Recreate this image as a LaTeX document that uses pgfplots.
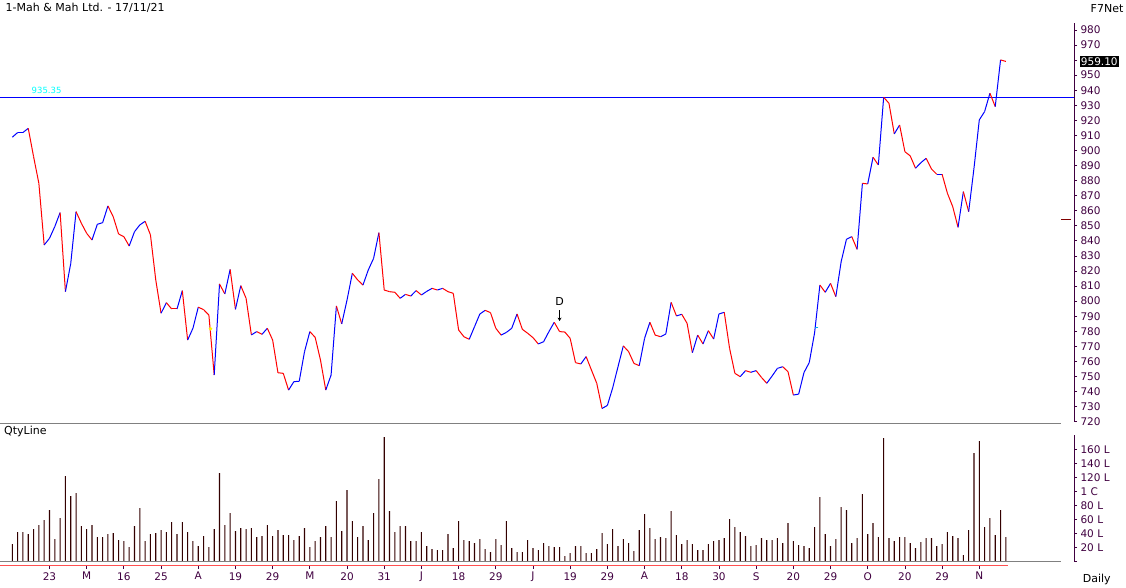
\documentclass[border=0pt]{standalone}
\usepackage{fontspec}
\setmainfont{DejaVu Sans}
\usepackage{pgfplots}
\pgfplotsset{compat=1.18}
\usetikzlibrary{arrows.meta}
\definecolor{axiscol}{RGB}{64,0,64}
\definecolor{barcol}{RGB}{51,0,0}
\definecolor{redline}{RGB}{255,80,80}
\definecolor{grayline}{RGB}{128,128,128}
\definecolor{dashred}{RGB}{128,0,0}
\definecolor{lvl}{RGB}{0,255,255}

\pgfplotstableread{
x y c
0 908.8 1
1 911.9 1
2 911.9 1
3 914.7 0
4 896.0 0
5 878.2 0
6 837.3 1
7 841.7 1
8 849.5 1
9 858.8 0
10 806.3 1
11 825.0 1
12 859.4 0
13 851.7 0
14 845.0 0
15 840.6 1
16 851.0 1
17 852.1 1
18 863.2 0
19 856.0 0
20 844.6 0
21 842.8 0
22 836.6 1
23 846.1 1
24 850.6 1
25 853.0 0
26 844.0 0
27 814.1 0
28 792.0 1
29 799.0 0
30 794.8 0
31 794.8 1
32 807.0 0
33 774.2 1
34 782.0 1
35 796.0 0
36 794.4 0
37 790.8 0
38 751.0 1
39 811.4 0
40 804.8 1
41 821.1 0
42 794.6 1
43 810.3 0
44 801.9 0
45 777.6 1
46 779.8 0
47 778.0 1
48 782.0 0
49 774.2 0
50 752.5 0
51 752.1 0
52 741.0 1
53 746.6 1
54 746.8 1
55 766.5 1
56 779.8 0
57 776.0 0
58 761.0 0
59 741.0 1
60 751.0 1
61 796.8 0
62 784.9 1
63 800.8 1
64 818.5 0
65 814.1 0
66 810.7 1
67 820.7 1
68 828.4 1
69 845.5 0
70 807.4 0
71 806.3 0
72 805.9 0
73 801.9 1
74 804.5 0
75 803.4 1
76 807.0 0
77 804.1 1
78 806.5 1
79 808.5 0
80 807.4 1
81 808.5 0
82 806.3 0
83 805.2 0
84 780.9 0
85 776.4 0
86 774.7 1
87 783.1 1
88 791.5 1
89 793.9 0
90 792.4 0
91 782.0 0
92 777.5 1
93 779.3 1
94 782.0 1
95 791.5 0
96 781.3 0
97 778.7 0
98 775.8 0
99 771.6 1
100 773.1 1
101 779.8 1
102 786.0 0
103 779.8 0
104 779.5 0
105 775.3 0
106 759.2 0
107 758.3 1
108 763.2 0
109 754.3 0
110 745.5 0
111 728.8 1
112 730.8 1
113 742.5 1
114 756.5 1
115 770.3 0
116 766.5 0
117 758.7 0
118 757.2 1
119 775.3 1
120 786.0 0
121 777.5 0
122 776.4 1
123 778.2 1
124 799.2 0
125 790.2 1
126 791.3 0
127 785.3 0
128 765.8 1
129 777.5 0
130 771.6 1
131 780.4 0
132 774.9 1
133 791.5 1
134 792.6 0
135 768.7 0
136 752.1 0
137 749.9 1
138 753.9 0
139 752.8 1
140 753.9 0
141 749.4 0
142 745.5 1
143 750.3 1
144 755.4 1
145 756.5 0
146 753.2 0
147 737.7 1
148 738.3 1
149 752.6 1
150 759.3 1
151 779.0 1
152 810.7 0
153 805.9 1
154 811.8 0
155 803.0 1
156 826.2 1
157 841.1 1
158 842.8 0
159 834.4 1
160 878.2 0
161 877.8 1
162 895.5 0
163 890.4 1
164 935.35 0
165 931.3 0
166 911.0 1
167 916.9 0
168 899.2 0
169 896.4 0
170 888.2 1
171 891.9 1
172 894.8 0
173 887.7 0
174 884.2 1
175 884.2 0
176 871.6 0
177 862.7 0
178 849.0 1
179 872.7 0
180 859.4 1
181 888.2 1
182 920.3 1
183 925.8 1
184 938.0 0
185 929.1 1
186 960.1 0
187 959.1 0
}\pricetable

\pgfplotstableread{
x v
0 25.3
1 42.4
2 42.4
3 39.5
4 46.7
5 52.4
6 59.5
7 73.8
8 32.4
9 62.4
10 122.4
11 93.8
12 98.1
13 51.0
14 46.7
15 52.4
16 35.3
17 35.3
18 39.5
19 41.0
20 31.0
21 29.5
22 21.0
23 51.0
24 76.7
25 29.5
26 39.5
27 41.0
28 45.3
29 42.4
30 56.7
31 39.5
32 56.7
33 42.4
34 29.5
35 22.4
36 36.7
37 21.0
38 46.7
39 126.7
40 52.4
41 69.5
42 43.8
43 48.1
44 46.7
45 48.1
46 35.3
47 36.7
48 52.4
49 36.7
50 45.3
51 38.1
52 38.1
53 31.0
54 36.7
55 48.1
56 21.0
57 29.5
58 35.3
59 51.0
60 35.3
61 86.7
62 43.8
63 102.4
64 58.1
65 35.3
66 51.0
67 31.0
68 69.5
69 118.1
70 178.1
71 72.4
72 42.4
73 51.0
74 51.0
75 29.5
76 29.5
77 42.4
78 22.4
79 18.1
80 16.7
81 16.7
82 39.5
83 19.5
84 58.1
85 31.0
86 29.5
87 26.7
88 32.4
89 18.1
90 13.8
91 32.4
92 23.8
93 58.1
94 19.5
95 13.8
96 13.8
97 31.0
98 19.5
99 16.7
100 26.7
101 22.4
102 21.0
103 21.0
104 8.1
105 12.4
106 22.4
107 22.4
108 12.4
109 12.4
110 18.1
111 41.0
112 25.3
113 46.7
114 22.4
115 32.4
116 26.7
117 15.3
118 45.3
119 68.1
120 48.1
121 32.4
122 35.3
123 33.8
124 72.4
125 38.1
126 25.3
127 31.0
128 25.3
129 16.7
130 16.7
131 25.3
132 29.5
133 31.0
134 33.8
135 61.0
136 49.5
137 42.4
138 36.7
139 22.4
140 23.8
141 33.8
142 31.0
143 31.0
144 33.8
145 26.7
146 55.3
147 29.5
148 23.8
149 22.4
150 19.5
151 49.5
152 92.4
153 39.5
154 22.4
155 32.4
156 78.1
157 73.8
158 26.7
159 33.8
160 96.7
161 39.5
162 55.3
163 35.3
164 176.7
165 33.8
166 29.5
167 35.3
168 35.3
169 26.7
170 19.5
171 28.1
172 33.8
173 33.8
174 22.4
175 25.3
176 42.4
177 36.7
178 33.8
179 9.5
180 45.3
181 155.3
182 172.4
183 49.5
184 62.4
185 38.1
186 73.8
187 35.3
}\voltable

\begin{document}
\begin{tikzpicture}
\path[use as bounding box] (0pt,0pt) rectangle (1126pt,-587pt);

% ---------- price panel ----------
\begin{axis}[
  at={(0pt,-23.3pt)}, anchor=north west,
  scale only axis, width=1074pt, height=398.4pt,
  xmin=-2.315, xmax=199.83, ymin=720, ymax=984.4,
  axis x line=none, axis y line=right,
  y axis line style={-, draw=axiscol, line width=0.8pt},
  ytick={720,730,...,980},
  yticklabels={720,730,740,750,760,770,780,790,800,810,820,830,840,850,860,870,880,890,900,910,920,930,940,950,,970,980},
  tick align=outside, major tick length=3pt,
  ytick style={draw=axiscol, line width=0.8pt},
  yticklabel style={font=\fontsize{10.5}{12}\selectfont, text=axiscol},
  clip=false,
  colormap={rb}{color(0)=(red) color(1)=(blue)},
  point meta min=0, point meta max=1,
]
\draw[blue, line width=0.9pt] (axis cs:-2.315,935.35) -- (axis cs:199.83,935.35);
\addplot[mesh, shader=flat corner, point meta=explicit, line width=1pt]
  table[x=x, y=y, meta=c] {\pricetable};
\addplot[only marks, mark=*, mark size=1.6pt, color=yellow] coordinates {(37.3,781.7)};
\addplot[only marks, mark=-, mark size=1.6pt, color=cyan, line width=1pt] coordinates {(151.4,782.7)};
\node[font=\fontsize{11}{13}\selectfont] at (axis cs:103,799.5) {D};
\draw[-{Stealth[length=3.5pt,width=4pt]}, line width=0.7pt] (axis cs:103,794.0) -- (axis cs:103,786.8);
\end{axis}

% ---------- volume panel ----------
\begin{axis}[
  at={(0pt,-435pt)}, anchor=north west,
  scale only axis, width=1074pt, height=130.7pt,
  xmin=-2.315, xmax=199.83, ymin=-5.714, ymax=181,
  axis x line=bottom, axis y line=right,
  x axis line style={draw=none}, y axis line style={draw=none},
  xtick={7,14,...,182},
  xticklabels={23,M,16,25,A,19,29,M,20,31,J,18,29,J,19,29,A,18,30,S,20,29,O,20,29,N},
  ytick={0,20,...,160},
  yticklabels={,20 L,40 L,60 L,80 L,1 C,120 L,140 L,160 L},
  tick align=outside, major tick length=3pt,
  tick style={draw=axiscol, line width=0.8pt},
  ticklabel style={font=\fontsize{10.5}{12}\selectfont, text=axiscol},
  clip=false,
]
\addplot[ybar, bar width=1.1pt, fill=barcol, draw=none] table[x=x, y=v] {\voltable};
\end{axis}

% ---------- frame decorations ----------
\draw[grayline, line width=0.8pt] (0pt,-423pt) -- (1061pt,-423pt);
\draw[grayline, line width=0.8pt] (0pt,-561.7pt) -- (1061pt,-561.7pt);
\draw[redline, line width=0.9pt] (0pt,-565.7pt) -- (1007.7pt,-565.7pt);
\draw[axiscol, line width=0.8pt] (1074.3pt,-435pt) -- (1074.3pt,-561.7pt);
\draw[dashred, line width=0.9pt] (1061pt,-219.3pt) -- (1071pt,-219.3pt);

% ---------- texts ----------
\node[anchor=base west, inner sep=0pt, font=\fontsize{11}{13}\selectfont] at (5.5pt,-11.7pt) {1-Mah \& Mah Ltd. - 17/11/21};
\node[anchor=base west, inner sep=0pt, font=\fontsize{11}{13}\selectfont] at (1090.5pt,-12.7pt) {F7Net};
\node[anchor=base west, inner sep=0pt, font=\fontsize{11}{13}\selectfont] at (4pt,-434pt) {QtyLine};
\node[anchor=base west, inner sep=0pt, font=\fontsize{11}{13}\selectfont] at (1082.7pt,-582.7pt) {Daily};
\node[anchor=base west, inner sep=0pt, text=lvl, font=\fontsize{8.5}{10}\selectfont] at (31.5pt,-93.3pt) {935.35};
\node[anchor=west, fill=black, text=white, inner xsep=1.2pt, inner ysep=1.6pt, font=\fontsize{10.5}{12}\selectfont] at (1079.5pt,-61.5pt) {959.10};
\end{tikzpicture}
\end{document}
